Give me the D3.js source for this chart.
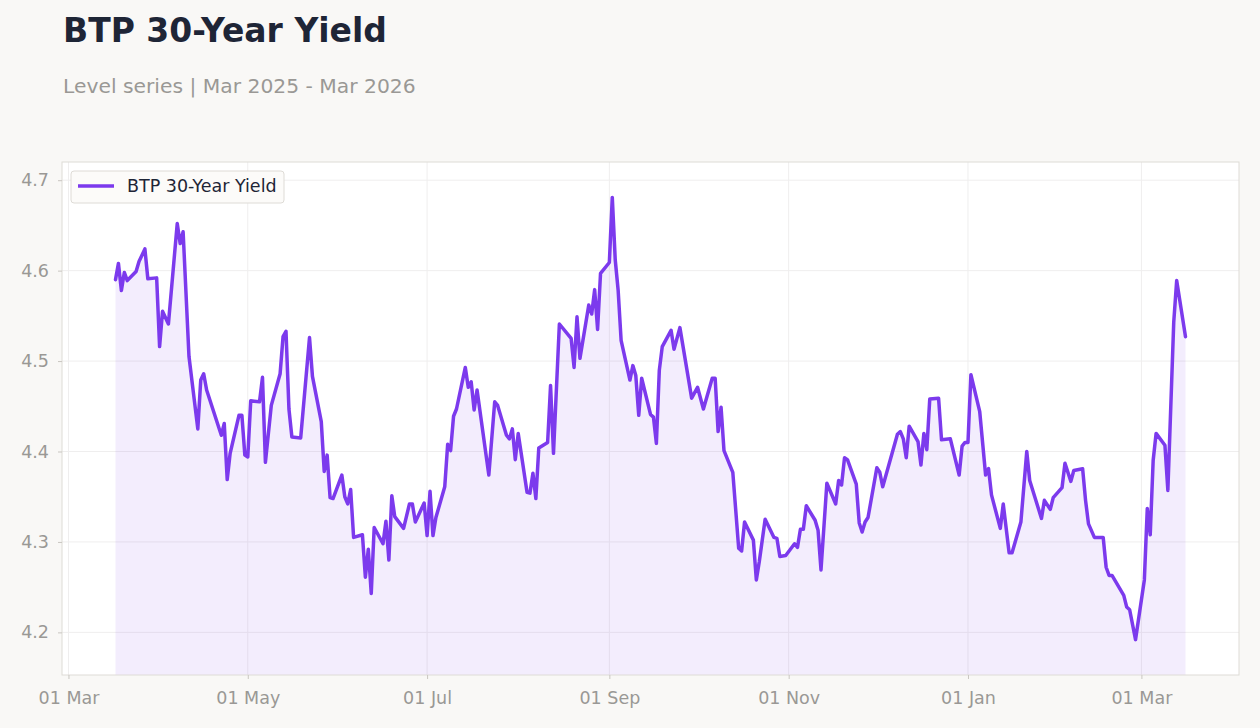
<!DOCTYPE html>
<html>
<head>
<meta charset="utf-8">
<script src="https://cdn.jsdelivr.net/npm/d3@7"></script>
<style>
  html, body { margin: 0; padding: 0; background: #f9f8f6; }
  body { width: 1260px; height: 728px; overflow: hidden; font-family: "DejaVu Sans", sans-serif; }
</style>
</head>
<body>
<div id="chart"></div>
<script>
// BTP 30-year yield, daily closes
const dates = [
  "2025-03-17","2025-03-18","2025-03-19","2025-03-20","2025-03-21","2025-03-24","2025-03-25","2025-03-27","2025-03-28","2025-03-31",
  "2025-04-01","2025-04-02","2025-04-04","2025-04-07","2025-04-08","2025-04-09","2025-04-11","2025-04-14","2025-04-15","2025-04-16",
  "2025-04-17","2025-04-22","2025-04-23","2025-04-24","2025-04-25","2025-04-28","2025-04-29","2025-04-30","2025-05-01","2025-05-02",
  "2025-05-05","2025-05-06","2025-05-07","2025-05-09","2025-05-12","2025-05-13","2025-05-14","2025-05-15","2025-05-16","2025-05-19",
  "2025-05-22","2025-05-23","2025-05-26","2025-05-27","2025-05-28","2025-05-29","2025-05-30","2025-06-02","2025-06-03","2025-06-04",
  "2025-06-05","2025-06-06","2025-06-09","2025-06-10","2025-06-11","2025-06-12","2025-06-13","2025-06-16","2025-06-17","2025-06-18",
  "2025-06-19","2025-06-20","2025-06-23","2025-06-25","2025-06-26","2025-06-27","2025-06-30","2025-07-01","2025-07-02","2025-07-03",
  "2025-07-04","2025-07-07","2025-07-08","2025-07-09","2025-07-10","2025-07-11","2025-07-14","2025-07-15","2025-07-16","2025-07-17",
  "2025-07-18","2025-07-22","2025-07-24","2025-07-25","2025-07-28","2025-07-29","2025-07-30","2025-07-31","2025-08-01","2025-08-04",
  "2025-08-05","2025-08-06","2025-08-07","2025-08-08","2025-08-11","2025-08-12","2025-08-13","2025-08-15","2025-08-19","2025-08-20",
  "2025-08-21","2025-08-22","2025-08-25","2025-08-26","2025-08-27","2025-08-28","2025-08-29","2025-09-01","2025-09-02","2025-09-03",
  "2025-09-04","2025-09-05","2025-09-08","2025-09-09","2025-09-10","2025-09-11","2025-09-12","2025-09-15","2025-09-16","2025-09-17",
  "2025-09-18","2025-09-19","2025-09-22","2025-09-23","2025-09-25","2025-09-29","2025-10-01","2025-10-03","2025-10-06","2025-10-07",
  "2025-10-08","2025-10-09","2025-10-10","2025-10-13","2025-10-15","2025-10-16","2025-10-17","2025-10-20","2025-10-21","2025-10-22",
  "2025-10-24","2025-10-27","2025-10-28","2025-10-29","2025-10-31","2025-11-03","2025-11-04","2025-11-05","2025-11-06","2025-11-07",
  "2025-11-10","2025-11-11","2025-11-12","2025-11-14","2025-11-17","2025-11-18","2025-11-19","2025-11-20","2025-11-21","2025-11-24",
  "2025-11-25","2025-11-26","2025-11-27","2025-11-28","2025-12-01","2025-12-02","2025-12-03","2025-12-08","2025-12-09","2025-12-10",
  "2025-12-11","2025-12-12","2025-12-15","2025-12-16","2025-12-17","2025-12-18","2025-12-19","2025-12-22","2025-12-23","2025-12-26",
  "2025-12-29","2025-12-30","2025-12-31","2026-01-01","2026-01-02","2026-01-05","2026-01-07","2026-01-08","2026-01-09","2026-01-12",
  "2026-01-13","2026-01-15","2026-01-16","2026-01-19","2026-01-21","2026-01-22","2026-01-26","2026-01-27","2026-01-29","2026-01-30",
  "2026-02-02","2026-02-03","2026-02-05","2026-02-06","2026-02-09","2026-02-10","2026-02-11","2026-02-13","2026-02-16","2026-02-17",
  "2026-02-18","2026-02-19","2026-02-23","2026-02-24","2026-02-25","2026-02-27","2026-03-02","2026-03-03","2026-03-04","2026-03-05",
  "2026-03-06","2026-03-09","2026-03-10","2026-03-12","2026-03-13","2026-03-16"
];
const yields = [
  4.590,4.608,4.578,4.598,4.589,4.599,4.610,4.624,4.591,4.592,
  4.516,4.555,4.541,4.652,4.630,4.643,4.505,4.425,4.479,4.486,
  4.468,4.418,4.431,4.369,4.398,4.440,4.440,4.396,4.394,4.456,
  4.455,4.482,4.388,4.451,4.486,4.527,4.533,4.447,4.416,4.415,
  4.526,4.483,4.433,4.378,4.396,4.349,4.348,4.374,4.350,4.342,
  4.358,4.305,4.308,4.261,4.292,4.243,4.316,4.298,4.323,4.280,
  4.351,4.328,4.315,4.342,4.342,4.322,4.343,4.307,4.356,4.307,
  4.327,4.361,4.408,4.401,4.439,4.447,4.493,4.471,4.477,4.446,
  4.468,4.374,4.455,4.451,4.418,4.414,4.425,4.391,4.420,4.355,
  4.354,4.376,4.348,4.404,4.410,4.473,4.398,4.541,4.525,4.493,
  4.549,4.503,4.562,4.552,4.579,4.535,4.597,4.609,4.681,4.612,
  4.578,4.523,4.479,4.495,4.484,4.440,4.481,4.441,4.438,4.409,
  4.490,4.516,4.534,4.513,4.537,4.459,4.471,4.447,4.481,4.481,
  4.422,4.449,4.401,4.377,4.293,4.290,4.322,4.302,4.258,4.278,
  4.325,4.305,4.304,4.284,4.285,4.298,4.294,4.314,4.314,4.340,
  4.324,4.313,4.269,4.365,4.342,4.368,4.363,4.393,4.391,4.364,
  4.321,4.311,4.322,4.327,4.382,4.377,4.361,4.419,4.422,4.414,
  4.393,4.428,4.411,4.385,4.420,4.402,4.458,4.459,4.413,4.414,
  4.374,4.406,4.410,4.410,4.485,4.444,4.374,4.381,4.352,4.315,
  4.342,4.288,4.288,4.322,4.400,4.368,4.326,4.346,4.336,4.349,
  4.360,4.387,4.367,4.379,4.381,4.346,4.320,4.305,4.305,4.272,
  4.263,4.263,4.241,4.228,4.225,4.192,4.258,4.337,4.308,4.390,
  4.420,4.407,4.357,4.543,4.589,4.527
];
const yTicks = [4.2, 4.3, 4.4, 4.5, 4.6, 4.7];
const seriesName = "BTP 30-Year Yield";
const titleText = "BTP 30-Year Yield";
const subtitleText = "Level series | Mar 2025 - Mar 2026";

const parse = d3.timeParse("%Y-%m-%d");
const data = dates.map((d, i) => ({ date: parse(d), value: yields[i] }));

const width = 1260, height = 728;
const margin = { top: 162, right: 21, bottom: 53, left: 62 };
const w = width - margin.left - margin.right;
const h = height - margin.top - margin.bottom;
const lineColor = "#7c3aed";

const svg = d3.select("#chart").append("svg")
    .attr("width", width)
    .attr("height", height)
    .style("display", "block");

// title + subtitle
svg.append("text")
    .attr("x", 63).attr("y", 42)
    .style("font-size", "33px")
    .style("font-weight", "bold")
    .attr("fill", "#1e2536")
    .text(titleText);
svg.append("text")
    .attr("x", 63).attr("y", 93)
    .style("font-size", "20.3px")
    .attr("fill", "#9a9895")
    .text(subtitleText);

const g = svg.append("g").attr("transform", `translate(${margin.left},${margin.top})`);

// scales, padded like the original (5% on x, 8% on y)
const [x0, x1] = d3.extent(data, d => d.date);
const xPad = (x1 - x0) * 0.05;
const x = d3.scaleTime()
    .domain([new Date(+x0 - xPad), new Date(+x1 + xPad)])
    .range([0, w]);

const [v0, v1] = d3.extent(data, d => d.value);
const yPad = (v1 - v0) * 0.08;
const y = d3.scaleLinear()
    .domain([v0 - yPad, v1 + yPad])
    .range([h, 0]);

// plot background
g.append("rect")
    .attr("width", w).attr("height", h)
    .attr("fill", "#ffffff");

// grid
const xTicks = x.ticks(d3.timeMonth.every(2));
g.append("g").selectAll("line.vg")
    .data(xTicks).enter().append("line")
    .attr("x1", d => x(d)).attr("x2", d => x(d))
    .attr("y1", 0).attr("y2", h)
    .attr("stroke", "#efeeee").attr("stroke-width", 1);
g.append("g").selectAll("line.hg")
    .data(yTicks).enter().append("line")
    .attr("x1", 0).attr("x2", w)
    .attr("y1", d => y(d)).attr("y2", d => y(d))
    .attr("stroke", "#efeeee").attr("stroke-width", 1);

// area + line
const area = d3.area()
    .x(d => x(d.date))
    .y0(h)
    .y1(d => y(d.value));
g.append("path")
    .datum(data)
    .attr("d", area)
    .attr("fill", lineColor)
    .attr("fill-opacity", 0.09);

const line = d3.line()
    .x(d => x(d.date))
    .y(d => y(d.value));
g.append("path")
    .datum(data)
    .attr("d", line)
    .attr("fill", "none")
    .attr("stroke", lineColor)
    .attr("stroke-width", 3.5)
    .attr("stroke-linejoin", "round")
    .attr("stroke-linecap", "round");

// frame
g.append("rect")
    .attr("width", w).attr("height", h)
    .attr("fill", "none")
    .attr("stroke", "#dedbd6").attr("stroke-width", 1);

// axes
const xAxis = g.append("g")
    .attr("transform", `translate(0,${h})`)
    .call(d3.axisBottom(x).tickValues(xTicks).tickFormat(d3.timeFormat("%d %b")).tickSize(4).tickPadding(13));
const yAxis = g.append("g")
    .call(d3.axisLeft(y).tickValues(yTicks).tickFormat(d3.format(".1f")).tickSize(4).tickPadding(9));
[xAxis, yAxis].forEach(a => {
    a.select(".domain").remove();
    a.selectAll("line").attr("stroke", "#c9c6c1");
    a.selectAll("text")
        .attr("fill", "#9a9895")
        .style("font-family", "DejaVu Sans, sans-serif")
        .style("font-size", "17.5px");
});

// legend
const legend = g.append("g").attr("transform", "translate(9,9)");
legend.append("rect")
    .attr("width", 213).attr("height", 32)
    .attr("rx", 3)
    .attr("fill", "#fcfbf9")
    .attr("stroke", "#dedbd6");
legend.append("line")
    .attr("x1", 7).attr("x2", 43)
    .attr("y1", 15).attr("y2", 15)
    .attr("stroke", lineColor).attr("stroke-width", 3.5);
legend.append("text")
    .attr("x", 56).attr("y", 21)
    .style("font-size", "17.5px")
    .attr("fill", "#1e2536")
    .text(seriesName);
</script>
</body>
</html>
